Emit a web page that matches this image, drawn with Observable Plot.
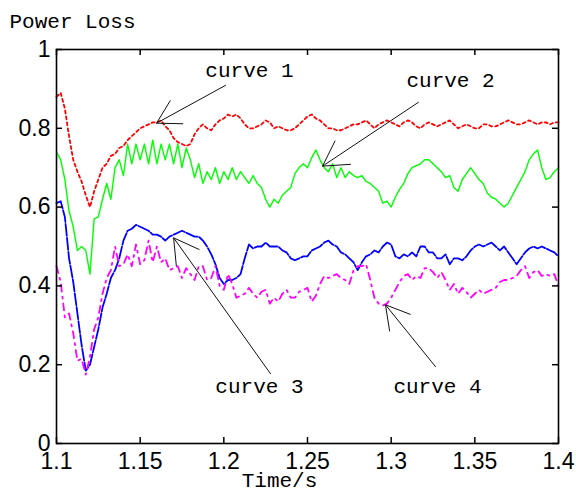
<!DOCTYPE html>
<html><head><meta charset="utf-8">
<script src="https://cdn.jsdelivr.net/npm/d3@7"></script>
<script src="https://cdn.jsdelivr.net/npm/@observablehq/plot@0.6"></script>
<style>body{margin:0;background:#fff;}</style>
</head><body><div id="chart"></div>
<script>
const time = [1.1,1.1025,1.105,1.1075,1.11,1.1125,1.115,1.1175,1.12,1.1225,1.125,1.1275,1.13,1.1325,1.135,1.1375,1.14,1.1425,1.145,1.1475,1.15,1.1525,1.155,1.1575,1.16,1.1625,1.165,1.1675,1.17,1.1725,1.175,1.1775,1.18,1.1825,1.185,1.1875,1.19,1.1925,1.195,1.1975,1.2,1.2025,1.205,1.2075,1.21,1.2125,1.215,1.2175,1.22,1.2225,1.225,1.2275,1.23,1.2325,1.235,1.2375,1.24,1.2425,1.245,1.2475,1.25,1.2525,1.255,1.2575,1.26,1.2625,1.265,1.2675,1.27,1.2725,1.275,1.2775,1.28,1.2825,1.285,1.2875,1.29,1.2925,1.295,1.2975,1.3,1.3025,1.305,1.3075,1.31,1.3125,1.315,1.3175,1.32,1.3225,1.325,1.3275,1.33,1.3325,1.335,1.3375,1.34,1.3425,1.345,1.3475,1.35,1.3525,1.355,1.3575,1.36,1.3625,1.365,1.3675,1.37,1.3725,1.375,1.3775,1.38,1.3825,1.385,1.3875,1.39,1.3925,1.395,1.3975,1.4];

const curve1 = [0.88,0.89,0.85,0.78,0.72,0.69,0.665,0.63,0.60,0.64,0.67,0.70,0.71,0.73,0.735,0.75,0.755,0.77,0.78,0.79,0.80,0.805,0.81,0.815,0.815,0.82,0.805,0.795,0.775,0.765,0.76,0.755,0.76,0.785,0.80,0.81,0.80,0.795,0.81,0.82,0.825,0.835,0.83,0.835,0.825,0.81,0.80,0.80,0.805,0.81,0.82,0.815,0.80,0.805,0.80,0.795,0.795,0.80,0.81,0.82,0.83,0.835,0.825,0.82,0.81,0.80,0.80,0.795,0.795,0.80,0.805,0.81,0.81,0.815,0.82,0.81,0.80,0.81,0.815,0.82,0.815,0.81,0.805,0.815,0.82,0.815,0.805,0.80,0.81,0.815,0.81,0.805,0.81,0.815,0.82,0.81,0.80,0.805,0.81,0.805,0.80,0.80,0.81,0.81,0.805,0.805,0.81,0.815,0.82,0.815,0.81,0.81,0.815,0.82,0.815,0.81,0.815,0.815,0.81,0.815,0.815];

const curve2 = [0.74,0.72,0.67,0.59,0.55,0.49,0.50,0.49,0.43,0.57,0.575,0.62,0.66,0.62,0.70,0.72,0.68,0.76,0.71,0.76,0.72,0.76,0.71,0.77,0.71,0.76,0.72,0.76,0.71,0.76,0.70,0.75,0.72,0.675,0.71,0.66,0.69,0.67,0.70,0.66,0.69,0.67,0.70,0.67,0.69,0.675,0.66,0.68,0.66,0.65,0.62,0.60,0.62,0.61,0.63,0.64,0.65,0.685,0.70,0.71,0.70,0.725,0.745,0.72,0.70,0.69,0.71,0.675,0.70,0.675,0.69,0.68,0.675,0.68,0.665,0.66,0.65,0.64,0.61,0.615,0.60,0.625,0.645,0.66,0.685,0.70,0.705,0.71,0.72,0.72,0.71,0.70,0.69,0.675,0.68,0.65,0.64,0.67,0.685,0.70,0.685,0.67,0.66,0.635,0.625,0.62,0.61,0.60,0.61,0.63,0.65,0.67,0.69,0.72,0.735,0.745,0.70,0.67,0.675,0.69,0.70];

const curve3 = [0.61,0.615,0.575,0.47,0.41,0.33,0.25,0.185,0.20,0.245,0.29,0.345,0.38,0.42,0.44,0.47,0.515,0.54,0.545,0.555,0.55,0.545,0.54,0.53,0.53,0.525,0.515,0.525,0.53,0.535,0.54,0.535,0.53,0.525,0.525,0.515,0.50,0.48,0.455,0.42,0.405,0.415,0.415,0.42,0.43,0.47,0.505,0.495,0.50,0.50,0.51,0.50,0.50,0.50,0.49,0.485,0.47,0.465,0.47,0.475,0.475,0.49,0.495,0.50,0.51,0.515,0.505,0.50,0.485,0.48,0.47,0.46,0.44,0.46,0.475,0.48,0.49,0.485,0.50,0.51,0.505,0.475,0.47,0.48,0.475,0.485,0.475,0.50,0.50,0.485,0.485,0.47,0.47,0.48,0.455,0.47,0.47,0.465,0.475,0.49,0.50,0.505,0.50,0.505,0.51,0.50,0.49,0.50,0.485,0.47,0.455,0.47,0.485,0.495,0.50,0.495,0.50,0.495,0.49,0.485,0.475];

const curve4 = [0.45,0.41,0.32,0.33,0.28,0.21,0.215,0.175,0.22,0.29,0.32,0.38,0.42,0.44,0.50,0.45,0.455,0.48,0.45,0.505,0.455,0.465,0.515,0.46,0.50,0.46,0.47,0.44,0.445,0.45,0.42,0.445,0.43,0.415,0.45,0.45,0.415,0.42,0.45,0.40,0.39,0.43,0.405,0.37,0.375,0.38,0.395,0.38,0.37,0.385,0.39,0.355,0.37,0.36,0.38,0.39,0.37,0.37,0.385,0.39,0.395,0.36,0.375,0.405,0.425,0.42,0.425,0.43,0.42,0.415,0.405,0.44,0.45,0.45,0.455,0.415,0.37,0.355,0.35,0.355,0.37,0.39,0.41,0.425,0.43,0.415,0.425,0.42,0.445,0.445,0.435,0.42,0.435,0.415,0.39,0.405,0.38,0.395,0.385,0.37,0.38,0.39,0.38,0.385,0.39,0.395,0.41,0.415,0.415,0.42,0.425,0.44,0.45,0.42,0.435,0.44,0.425,0.43,0.425,0.43,0.40];

const seriesValues = [curve1, curve2, curve3, curve4];
const curveNames = ["curve 1", "curve 2", "curve 3", "curve 4"];
const curveColors = ["#ff0000", "#00ff00", "#0000ff", "#ff00ff"];
const curveDashes = ["3,3", "none", "12,2", "7,5,2,5"];
const curveWidths = [1.8, 1.4, 1.8, 1.8];

const labelTime = [1.2153, 1.3355, 1.2213, 1.3277];
const labelValue = [0.947, 0.921, 0.145, 0.145];
const arrowFromTime = [1.201, 1.3163, 1.2279, 1.3265];
const arrowFromValue = [0.909, 0.866, 0.177, 0.195];
const arrowToTime = [1.1598, 1.259, 1.170, 1.2966];
const arrowToValue = [0.813, 0.704, 0.522, 0.352];

const xTicks = [1.1, 1.15, 1.2, 1.25, 1.3, 1.35, 1.4];
const xTickLabels = ["1.1", "1.15", "1.2", "1.25", "1.3", "1.35", "1.4"];
const yTicks = [0, 0.2, 0.4, 0.6, 0.8, 1];
const yTickLabels = ["0", "0.2", "0.4", "0.6", "0.8", "1"];
const titleText = "Power Loss";
const xLabelText = "Time/s";

const mono = "'Liberation Mono', 'Courier New', monospace";

const lineMarks = seriesValues.map((vals, k) =>
  Plot.line(time.map((t, i) => ({t, v: vals[i]})), {
    x: "t", y: "v", stroke: curveColors[k], strokeWidth: curveWidths[k],
    strokeDasharray: curveDashes[k] === "none" ? null : curveDashes[k]
  })
);

const annotations = curveNames.map((name, i) => ({
  name, tx: labelTime[i], ty: labelValue[i],
  x1: arrowFromTime[i], y1: arrowFromValue[i], x2: arrowToTime[i], y2: arrowToValue[i]
}));

const xMin = xTicks[0], xMax = xTicks[xTicks.length - 1];
const yMin = yTicks[0], yMax = yTicks[yTicks.length - 1];

const chart = Plot.plot({
  width: 576, height: 494,
  marginLeft: 56, marginRight: 18, marginTop: 49, marginBottom: 51,
  x: {domain: [xMin, xMax]},
  y: {domain: [yMin, yMax]},
  style: {fontFamily: "'Liberation Sans', Arial, sans-serif", fontSize: "23px", color: "#000", background: "#fff"},
  marks: [
    ...lineMarks,
    Plot.arrow(annotations, {x1: "x1", y1: "y1", x2: "x2", y2: "y2", stroke: "#111", strokeWidth: 1, headLength: 42, headAngle: 60}),
    Plot.text(annotations, {x: "tx", y: "ty", text: "name", fontFamily: mono, fontSize: 21, fill: "#000"}),
    // inward ticks (MATLAB style)
    Plot.ruleX(xTicks, {x: d => d, y1: yMin, y2: yMin, insetTop: -6, stroke: "#000", strokeWidth: 1.5}),
    Plot.ruleX(xTicks, {x: d => d, y1: yMax, y2: yMax, insetBottom: -6, stroke: "#000", strokeWidth: 1.5}),
    Plot.ruleY(yTicks, {y: d => d, x1: xMin, x2: xMin, insetRight: -6, stroke: "#000", strokeWidth: 1.5}),
    Plot.ruleY(yTicks, {y: d => d, x1: xMax, x2: xMax, insetLeft: -6, stroke: "#000", strokeWidth: 1.5}),
    Plot.axisX({anchor: "bottom", ticks: xTicks, tickFormat: (d, i) => xTickLabels[i], tickSize: 0, tickPadding: 9, label: null, fontSize: 23}),
    Plot.axisY({anchor: "left", ticks: yTicks, tickFormat: (d, i) => yTickLabels[i], tickSize: 0, tickPadding: 6, label: null, fontSize: 23}),
    Plot.frame({stroke: "#000", strokeWidth: 1.6}),
    Plot.text([titleText], {frameAnchor: "top-left", dx: -47, dy: -36, textAnchor: "start", fontFamily: mono, fontSize: 21, fill: "#000"}),
    Plot.text([xLabelText], {frameAnchor: "bottom", dx: -28, dy: 43, fontFamily: mono, fontSize: 21, fill: "#000"})
  ]
});
document.getElementById("chart").appendChild(chart);
</script>
</body></html>
